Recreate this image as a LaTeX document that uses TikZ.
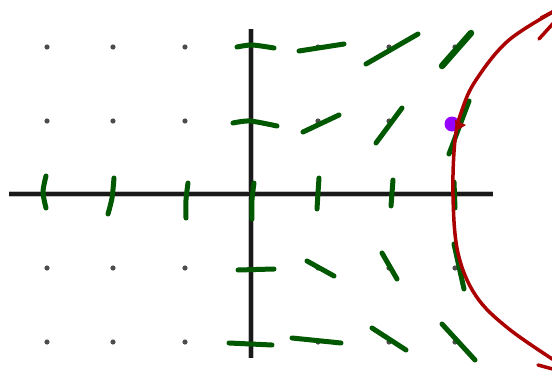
\documentclass[tikz,border=0pt]{standalone}
\definecolor{fieldgreen}{RGB}{0,88,0}
\definecolor{orbitred}{RGB}{170,0,0}
\definecolor{ptpurple}{RGB}{150,0,255}
\begin{document}
\begin{tikzpicture}[x=1pt,y=-1pt,
  griddot/.style={fill=black!70,draw=none},
  axisline/.style={line width=3.2pt,black!90},
  axisblur/.style={line width=6pt,black!25},
  fieldseg/.style={line width=5pt,line cap=round,draw=fieldgreen},
  orbit/.style={line width=3.5pt,line cap=round,line join=round,draw=orbitred}]
\useasboundingbox (0,0) rectangle (552,372);
\clip (0,0) rectangle (552,372);
\fill[white] (0,0) rectangle (552,372);
% grid dots
\foreach \x in {47,113,185,251,318,389,455}
  \foreach \y in {47,121,268,342}
    \fill[griddot] (\x,\y) circle (2.6);
% axes
\draw[axisblur] (9,194) -- (493,194);
\draw[axisblur] (251,29) -- (251,358);
\draw[axisline] (9,194) -- (493,194);
\draw[axisline] (251,29) -- (251,358);
% purple point
\fill[ptpurple] (452,124) circle (7.5);
% direction field
\draw[fieldseg] plot[smooth] coordinates {(237,47) (252,45) (274,48)};
\draw[fieldseg] (299,51) -- (344,44);
\draw[fieldseg] (366,64) -- (418,34);
\draw[fieldseg,line width=6.5pt] (442,66) -- (471,33);
\draw[fieldseg] plot[smooth] coordinates {(233,123) (250,121) (277,126)};
\draw[fieldseg] (303,132) -- (339,115);
\draw[fieldseg] (376,143) -- (402,108);
\draw[fieldseg] (449,154) -- (469,101);
\draw[fieldseg] plot[smooth] coordinates {(46,176) (43,192) (46,208)};
\draw[fieldseg] plot[smooth] coordinates {(114,178) (112,198) (108,214)};
\draw[fieldseg] plot[smooth] coordinates {(188,183) (186,200) (186,218)};
\draw[fieldseg] plot[smooth] coordinates {(254,183) (252,200) (252,219)};
\draw[fieldseg] plot[smooth] coordinates {(319,178) (318,193) (317,209)};
\draw[fieldseg] plot[smooth] coordinates {(393,180) (392,193) (391,206)};
\draw[fieldseg] (454,182) -- (455,208);
\draw[fieldseg] (238,270) -- (274,269);
\draw[fieldseg] (307,261) -- (334,276);
\draw[fieldseg] (382,253) -- (397,279);
\draw[fieldseg] (454,244) -- (464,289);
\draw[fieldseg] (229,343) -- (272,345);
\draw[fieldseg] (292,338) -- (341,343);
\draw[fieldseg] (372,328) -- (406,350);
\draw[fieldseg] (442,324) -- (475,360);
% trajectory
\draw[orbit] plot[smooth,tension=0.6] coordinates {(560,8) (509,40) (476,80) (462,110) (455,140) (453,196) (458,253) (476,296) (509,329) (560,364)};
\draw[orbit] (541,18) -- (560,8);
\draw[orbit] (539,39) -- (558,18);
\draw[orbit] (538,365) -- (560,371);
\fill[orbitred] (455,120) -- (466,125) -- (456,131) -- cycle;
\end{tikzpicture}
\end{document}
